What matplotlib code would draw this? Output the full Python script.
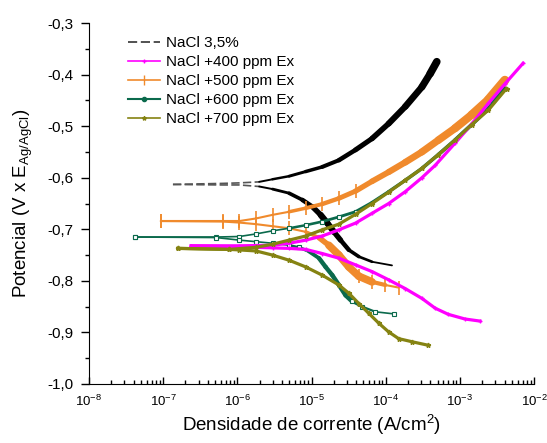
import numpy as np
import matplotlib
matplotlib.use("Agg")
import matplotlib.pyplot as plt
from matplotlib.ticker import FuncFormatter, LogLocator, MultipleLocator, NullFormatter
from matplotlib.lines import Line2D
from matplotlib.collections import LineCollection

plt.rcParams['font.family'] = ['Liberation Sans', 'DejaVu Sans']
plt.rcParams['mathtext.fontset'] = 'custom'
plt.rcParams['mathtext.rm'] = 'Liberation Sans'
plt.rcParams['mathtext.it'] = 'Liberation Sans:italic'
plt.rcParams['mathtext.default'] = 'regular'

labels = ["NaCl 3,5%", "NaCl +400 ppm Ex", "NaCl +500 ppm Ex",
          "NaCl +600 ppm Ex", "NaCl +700 ppm Ex"]

# log10 of current density (A/cm2) and potential (V vs Ag/AgCl), anodic / cathodic branches
nacl_an_logi = [-6.868, -6.197, -5.973, -5.705, -5.526, -5.302, -5.078, -4.855, -4.631,
                -4.407, -4.184, -3.960, -3.736, -3.512, -3.400, -3.311]
nacl_an_E    = [-0.613, -0.611, -0.610, -0.608, -0.603, -0.597, -0.588, -0.579, -0.566,
                -0.546, -0.524, -0.495, -0.462, -0.424, -0.398, -0.375]
nacl_ca_logi = [-6.868, -6.197, -5.973, -5.705, -5.526, -5.302, -5.123, -4.989, -4.877,
                -4.787, -4.698, -4.608, -4.497, -4.362, -4.184, -3.915]
nacl_ca_E    = [-0.613, -0.614, -0.614, -0.617, -0.622, -0.630, -0.643, -0.656, -0.672,
                -0.688, -0.705, -0.721, -0.740, -0.753, -0.763, -0.770]

p400_an_logi = [-6.622, -5.973, -5.526, -5.302, -5.078, -4.855, -4.631, -4.407, -4.184,
                -3.960, -3.736, -3.512, -3.333, -3.065, -2.841, -2.617, -2.393, -2.148]
p400_an_E    = [-0.732, -0.732, -0.731, -0.727, -0.721, -0.713, -0.701, -0.688, -0.669,
                -0.650, -0.627, -0.600, -0.576, -0.533, -0.496, -0.456, -0.418, -0.378]
p400_ca_logi = [-6.622, -5.973, -5.526, -5.302, -5.078, -4.855, -4.631, -4.407, -4.184,
                -3.960, -3.736, -3.512, -3.333, -3.155, -2.930, -2.729]
p400_ca_E    = [-0.732, -0.734, -0.736, -0.737, -0.739, -0.747, -0.756, -0.769, -0.782,
                -0.798, -0.815, -0.834, -0.853, -0.865, -0.874, -0.878]

p500_an_logi = [-7.033, -6.197, -5.973, -5.749, -5.526, -5.302, -5.078, -4.855, -4.631,
                -4.407, -4.184, -3.960, -3.736, -3.512, -3.289, -3.065, -2.841, -2.617, -2.393]
p500_an_E    = [-0.684, -0.684, -0.684, -0.679, -0.672, -0.666, -0.659, -0.651, -0.640,
                -0.626, -0.607, -0.589, -0.570, -0.550, -0.527, -0.504, -0.478, -0.449, -0.411]
p500_ca_logi = [-7.033, -6.197, -5.973, -5.749, -5.526, -5.302, -5.078, -4.900, -4.766,
                -4.631, -4.497, -4.362, -4.184, -4.005, -3.826]
p500_ca_E    = [-0.684, -0.685, -0.687, -0.690, -0.694, -0.698, -0.705, -0.716, -0.731,
                -0.750, -0.773, -0.791, -0.802, -0.808, -0.813]

p600_an_logi = [-7.374, -6.286, -5.973, -5.749, -5.526, -5.302, -5.078, -4.855, -4.631,
                -4.407, -4.184, -3.960, -3.736, -3.512, -3.289, -3.065, -2.841, -2.617, -2.393]
p600_an_E    = [-0.715, -0.715, -0.714, -0.709, -0.703, -0.698, -0.692, -0.685, -0.676,
                -0.666, -0.648, -0.627, -0.605, -0.582, -0.555, -0.527, -0.497, -0.466, -0.427]
p600_ca_logi = [-7.374, -6.286, -5.973, -5.749, -5.526, -5.302, -5.168, -5.034, -4.899,
                -4.810, -4.720, -4.631, -4.541, -4.452, -4.318, -4.139, -3.893]
p600_ca_E    = [-0.715, -0.716, -0.721, -0.724, -0.727, -0.731, -0.735, -0.743, -0.756,
                -0.773, -0.789, -0.808, -0.828, -0.840, -0.850, -0.860, -0.864]

p700_an_logi = [-6.801, -6.107, -5.749, -5.526, -5.302, -5.078, -4.855, -4.631, -4.407,
                -4.184, -3.960, -3.736, -3.512, -3.289, -3.065, -2.841, -2.617, -2.371]
p700_an_E    = [-0.737, -0.739, -0.735, -0.729, -0.721, -0.713, -0.701, -0.690, -0.671,
                -0.650, -0.628, -0.605, -0.582, -0.555, -0.527, -0.497, -0.469, -0.427]
p700_ca_logi = [-6.801, -6.107, -5.973, -5.749, -5.526, -5.302, -5.078, -4.855, -4.631,
                -4.497, -4.362, -4.228, -4.094, -3.960, -3.826, -3.647, -3.423]
p700_ca_E    = [-0.737, -0.739, -0.740, -0.742, -0.750, -0.760, -0.773, -0.789, -0.808,
                -0.824, -0.844, -0.863, -0.882, -0.899, -0.912, -0.918, -0.925]

c_black = '#000000'
c_mag = '#FF00FF'
c_or = '#F08A2C'
c_gr = '#0B6A4C'
c_ol = '#858312'

fig = plt.figure(figsize=(5.47, 4.43), dpi=100)
ax = fig.add_axes([0.1627, 0.1332, 0.8136, 0.8148])


def I(a):
    return 10.0 ** np.asarray(a)


def band(logi, E, color, widths, start=0, **kw):
    """Draw a branch as line segments with individual widths (dense data band)."""
    x = I(logi)[start:]
    y = np.asarray(E)[start:]
    pts = np.column_stack([x, y])
    segs = np.stack([pts[:-1], pts[1:]], axis=1)
    lc = LineCollection(segs, colors=color, linewidths=widths,
                        capstyle='round', joinstyle='round', **kw)
    ax.add_collection(lc)


def ramp(n, w0, w1):
    return np.linspace(w0, w1, n)


# --- NaCl 3.5 % (black): dashed near Ecorr, thick dense band further out
ax.plot(I(nacl_an_logi[:4]), nacl_an_E[:4], ls=(0, (5, 2)), color='#555555', lw=1.2)
ax.plot(I(nacl_ca_logi[:4]), nacl_ca_E[:4], ls=(0, (5, 2)), color='#555555', lw=1.2)
band(nacl_an_logi, nacl_an_E, c_black, ramp(len(nacl_an_logi) - 4, 1.4, 5.5), start=3)
band(nacl_ca_logi, nacl_ca_E, c_black,
     np.concatenate([ramp(6, 1.4, 4.5), ramp(6, 4.5, 1.3)]), start=3)

# --- +500 ppm (orange)
band(p500_an_logi, p500_an_E, c_or,
     np.concatenate([np.full(5, 1.5), ramp(len(p500_an_logi) - 6, 2.5, 6.5)]))
ax.plot(I(p500_an_logi[:10]), p500_an_E[:10], ls='none', color=c_or, marker='|', ms=10, mew=1.2)
band(p500_ca_logi, p500_ca_E, c_or,
     np.concatenate([np.full(6, 1.5), ramp(3, 2.5, 5.5), np.full(3, 5.5), ramp(2, 3.0, 1.5)]))
ax.plot(I(p500_ca_logi[:7]), p500_ca_E[:7], ls='none', color=c_or, marker='|', ms=10, mew=1.2)
ax.plot(I(p500_ca_logi[11:]), p500_ca_E[11:], ls='none', color=c_or, marker='|', ms=10, mew=1.2)

# --- +600 ppm (green)
band(p600_an_logi, p600_an_E, c_gr,
     np.concatenate([np.full(5, 1.2), ramp(len(p600_an_logi) - 6, 1.8, 3.0)]))
ax.plot(I(p600_an_logi[:10]), p600_an_E[:10], ls='none', marker='s', ms=3,
        mfc='white', mec=c_gr, mew=0.8)
band(p600_ca_logi, p600_ca_E, c_gr,
     np.concatenate([np.full(5, 1.2), ramp(4, 1.8, 3.2), np.full(4, 3.2), ramp(3, 2.0, 1.2)]))
ax.plot(I(p600_ca_logi[:7]), p600_ca_E[:7], ls='none', marker='s', ms=3,
        mfc='white', mec=c_gr, mew=0.8)
ax.plot(I(p600_ca_logi[13:]), p600_ca_E[13:], ls='none', marker='s', ms=3,
        mfc='white', mec=c_gr, mew=0.8)

# --- +400 ppm (magenta)
ax.plot(I(p400_an_logi), p400_an_E, color=c_mag, lw=2.3, marker='+', ms=3, mew=1)
ax.plot(I(p400_ca_logi), p400_ca_E, color=c_mag, lw=2.3, marker='+', ms=3, mew=1)

# --- +700 ppm (olive)
ax.plot(I(p700_an_logi), p700_an_E, color=c_ol, lw=2.3, marker='*', ms=3.5)
ax.plot(I(p700_ca_logi), p700_ca_E, color=c_ol, lw=2.3, marker='*', ms=3.5)

ax.set_xscale('log')
ax.set_xlim(1e-8, 1e-2)
ax.set_ylim(-1.0, -0.3)

ax.spines['top'].set_visible(False)
ax.spines['right'].set_visible(False)

ax.yaxis.set_major_locator(MultipleLocator(0.1))
ax.yaxis.set_minor_locator(MultipleLocator(0.05))
ax.yaxis.set_major_formatter(FuncFormatter(lambda v, p: ('%.1f' % v).replace('.', ',')))
ax.xaxis.set_major_locator(LogLocator(base=10, numticks=10))
ax.xaxis.set_minor_locator(LogLocator(base=10, subs=np.arange(2, 10), numticks=20))
ax.xaxis.set_minor_formatter(NullFormatter())
ax.xaxis.set_major_formatter(FuncFormatter(lambda v, p: '10$^{%d}$' % round(np.log10(v))))

ax.tick_params(axis='y', which='major', direction='out', length=6, width=1, labelsize=11, pad=5)
ax.tick_params(axis='y', which='minor', direction='out', length=3, width=1)
ax.tick_params(axis='x', which='major', direction='in', length=5, width=1, labelsize=9.5, pad=7)
ax.tick_params(axis='x', which='minor', direction='in', length=3, width=1)

ax.set_xlabel('Densidade de corrente (A/cm$^{2}$)', fontsize=13.5, labelpad=3)
ax.set_ylabel('Potencial (V x E$_{Ag/AgCl}$)', fontsize=13.5, labelpad=9)

handles = [
    Line2D([], [], color='#333333', ls=(0, (5.5, 2.2)), lw=1.2),
    Line2D([], [], color=c_mag, lw=1.2, marker='+', ms=3),
    Line2D([], [], color=c_or, lw=1.2, marker='|', ms=7),
    Line2D([], [], color=c_gr, lw=1.5, marker='o', ms=3),
    Line2D([], [], color=c_ol, lw=1.2, marker='*', ms=3),
]
leg = ax.legend(handles, labels, loc='upper left', bbox_to_anchor=(0.066, 0.989),
                frameon=False, fontsize=11, handlelength=2.15, handletextpad=0.4,
                labelspacing=0.33, borderaxespad=0.2, numpoints=1)

fig.savefig('out.png', dpi=100)
